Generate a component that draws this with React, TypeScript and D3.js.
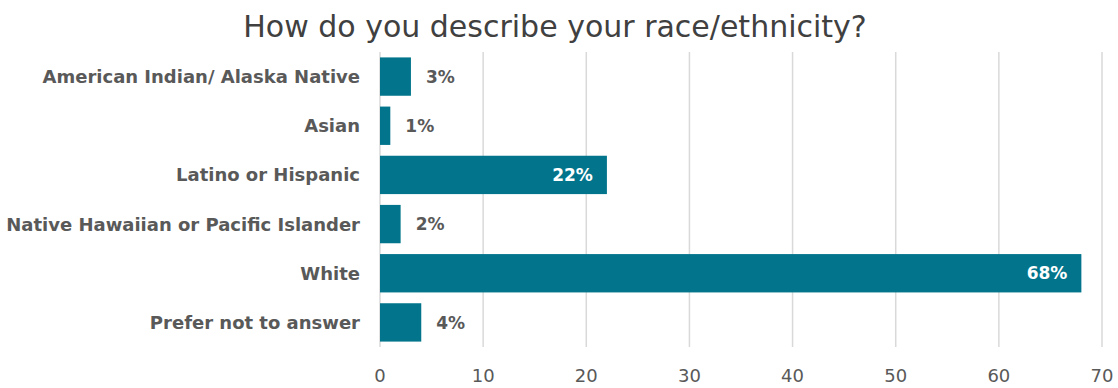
import React from "react";
import * as d3 from "d3";

const categories = [
  "American Indian/ Alaska Native",
  "Asian",
  "Latino or Hispanic",
  "Native Hawaiian or Pacific Islander",
  "White",
  "Prefer not to answer",
];
const values = [3, 1, 22, 2, 68, 4];
const xTicks = [0, 10, 20, 30, 40, 50, 60, 70];
const title = "How do you describe your race/ethnicity?";

const W = 1118;
const H = 388;
const FONT = "'DejaVu Sans', sans-serif";

export default function App() {
  const left = 380;
  const right = 1102;
  const top = 52;
  const bottom = 347;
  const x = d3.scaleLinear().domain([0, 70]).range([left, right]);
  const y = d3
    .scaleBand<string>()
    .domain(categories)
    .range([top, bottom])
    .paddingInner(0.22)
    .paddingOuter(0.11);
  const barColor = "#02758C";
  const textColor = "#595959";

  return (
    <svg
      width={W}
      height={H}
      style={{ position: "absolute", left: 0, top: 0, background: "#fff" }}
      fontFamily={FONT}
    >
      <text
        x={555}
        y={37}
        textAnchor="middle"
        fontSize={30}
        fill="#404040"
      >
        {title}
      </text>
      {xTicks.map((t) => (
        <g key={t}>
          <line
            x1={x(t)}
            x2={x(t)}
            y1={top}
            y2={bottom}
            stroke="#D9D9D9"
            strokeWidth={1.5}
          />
          <text
            x={x(t)}
            y={382}
            textAnchor="middle"
            fontSize={18}
            fill={textColor}
          >
            {t}
          </text>
        </g>
      ))}
      {categories.map((c, i) => {
        const v = values[i];
        const by = y(c)!;
        const bh = y.bandwidth();
        const inside = v > 10;
        return (
          <g key={c}>
            <rect
              x={x(0)}
              y={by}
              width={x(v) - x(0)}
              height={bh}
              fill={barColor}
            />
            <text
              x={360}
              y={by + bh / 2}
              dy="0.36em"
              textAnchor="end"
              fontSize={18}
              fontWeight="bold"
              fill={textColor}
            >
              {c}
            </text>
            <text
              x={inside ? x(v) - 14 : x(v) + 15}
              y={by + bh / 2}
              dy="0.36em"
              textAnchor={inside ? "end" : "start"}
              fontSize={17}
              fontWeight="bold"
              fill={inside ? "#ffffff" : textColor}
            >
              {`${v}%`}
            </text>
          </g>
        );
      })}
    </svg>
  );
}
